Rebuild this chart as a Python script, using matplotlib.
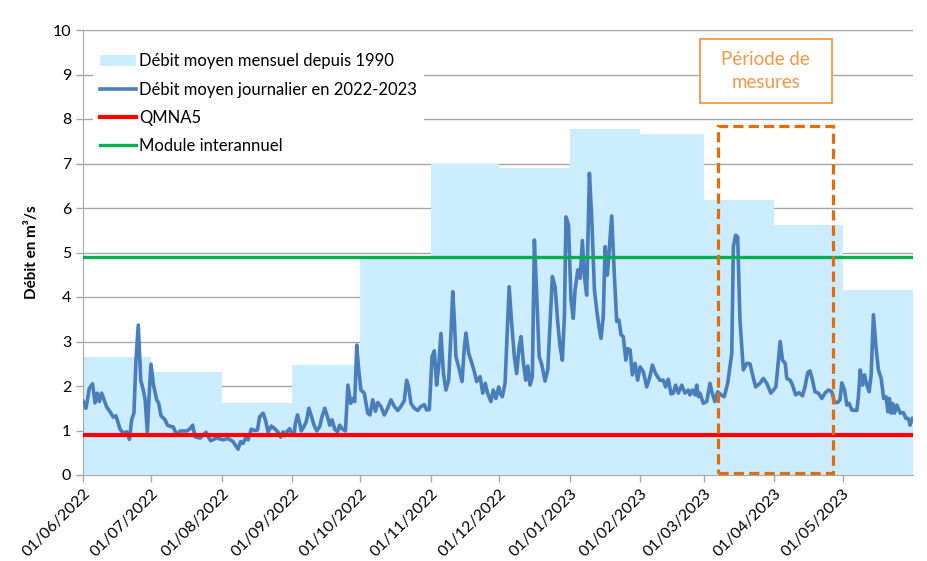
import matplotlib
matplotlib.use('Agg')
import matplotlib.pyplot as plt
import matplotlib.dates as mdates
from matplotlib.patches import Rectangle, Patch
from matplotlib.lines import Line2D
import numpy as np

plt.rcParams['font.family'] = ['Lato', 'DejaVu Sans']

# ---------------- data ----------------
month_starts = ['2022-06-01', '2022-07-01', '2022-08-01', '2022-09-01', '2022-10-01',
                '2022-11-01', '2022-12-01', '2023-01-01', '2023-02-01', '2023-03-01',
                '2023-04-01', '2023-05-01']
axis_end = '2023-06-01'
monthly_mean = [2.66, 2.31, 1.62, 2.47, 4.85, 7.00, 6.89, 7.77, 7.67, 6.19, 5.62, 4.16]

series_start = '2022-06-01'
# days elapsed since 01/06/2022
day_offsets = [
    0.1, 1.3, 2.8, 4.2, 5.3, 6.3, 7.2, 8.2, 9.2, 10.4, 11.9, 13.3, 14.5, 15.5, 16.3, 17.7,
    19.2, 20.4, 21.4, 22.4, 23.3, 24.3, 25.4, 26.5, 27.3, 28.3, 29.2, 29.9, 31.0, 32.4,
    33.3, 34.3, 36.1, 37.1, 38.6, 39.7, 41.2, 42.7, 45.6, 47.1, 48.2, 49.3, 51.5, 54.1,
    56.1, 58.8,
    61.6, 63.8, 66.0, 67.0, 68.2, 69.3, 70.4, 71.4, 72.6, 74.0, 75.5, 76.7, 77.7, 79.2,
    80.2, 81.4, 82.8, 84.3, 85.8, 86.9, 88.0, 88.7, 89.9, 90.9, 91.6, 92.8, 93.4, 94.3,
    95.3, 96.0, 97.2, 98.2, 99.3, 100.4, 101.6, 102.8, 104.1, 105.1, 106.3, 107.5, 108.5,
    109.5, 110.7, 111.9, 112.9, 113.9, 115.4, 116.5, 117.7, 118.7, 119.5, 120.4, 121.2,
    122.2, 123.7, 125.2, 126.2, 127.4, 128.6, 129.6, 131.0, 132.5, 134.0, 135.4, 136.9,
    138.4, 139.8, 141.3, 142.3, 143.2, 144.2, 145.7, 147.2, 148.6, 150.1, 151.1, 152.3,
    153.5, 154.5, 155.5, 156.4, 157.4, 158.5, 159.6, 160.8, 161.8, 162.6, 163.3, 164.0,
    165.2, 166.7, 167.7, 168.4, 169.6, 170.6, 172.1, 173.1, 174.6, 175.8, 176.9, 177.9,
    179.4, 180.4, 181.6, 182.8,
    183.4, 184.4, 185.6, 187.4, 188.5, 189.7, 190.7, 191.8, 192.6, 193.7, 194.7, 195.6,
    196.6, 197.6, 198.5, 199.5, 200.6, 201.7, 203.2, 204.4, 205.4, 206.4, 207.6, 208.8,
    209.8, 210.8, 211.7, 212.4, 213.5, 214.6, 215.6, 216.4, 217.6, 218.6, 219.6, 220.5,
    221.5, 222.7, 223.7, 224.9, 225.9, 226.9, 227.8, 228.8, 229.6, 230.6, 231.5, 232.5,
    233.7, 234.7, 235.7, 236.6, 237.6, 238.7, 239.5, 240.6, 241.6, 242.8, 243.9, 245.0,
    246.4, 247.9, 249.3, 250.4, 251.8, 253.7, 255.2, 256.2, 257.4, 258.6, 259.6, 260.6,
    261.8, 263.3, 264.7, 266.2, 266.9, 268.0, 269.1, 269.9, 270.6, 271.3, 272.8, 274.3,
    275.7, 276.7, 277.9, 279.1, 280.6, 282.0, 283.5, 285.3, 286.0, 287.0, 287.9, 288.9,
    290.4, 291.9, 293.3, 294.3, 295.8, 297.7, 299.2, 300.7, 302.5,
    304.7, 306.6, 307.6, 308.8, 309.5, 311.0, 312.0, 313.4, 314.9, 316.4, 317.5, 318.7,
    319.7, 320.8, 321.9, 323.4, 324.9, 326.3, 327.8, 329.3, 330.5, 331.9, 332.9, 333.7,
    334.9, 335.9, 336.9, 338.1, 340.3, 341.0, 341.8, 342.8, 343.7, 344.7, 345.7, 346.6,
    347.6, 348.7, 349.8, 351.0, 352.1, 353.1, 354.0, 354.6, 355.4, 356.0, 356.9, 357.9,
    359.4, 360.8, 361.9, 363.0, 363.7, 364.8,
]
daily_flow = [
    1.65, 1.50, 1.95, 2.05, 1.62, 1.84, 1.65, 1.84, 1.70, 1.53, 1.42, 1.30, 1.33, 1.16, 1.03, 0.94,
    0.97, 0.80, 1.24, 1.39, 2.58, 3.37, 2.13, 1.91, 1.70, 0.97, 1.90, 2.49, 2.02, 1.69,
    1.61, 1.33, 1.24, 1.12, 1.09, 1.08, 0.90, 0.99, 0.99, 1.04, 1.12, 0.86, 0.83, 0.96,
    0.77, 0.83,
    0.79, 0.82, 0.75, 0.67, 0.58, 0.75, 0.71, 0.82, 0.79, 1.03, 1.00, 1.01, 1.31, 1.39,
    1.24, 0.97, 1.10, 1.04, 0.96, 0.85, 0.97, 0.88, 0.99, 1.04, 0.96, 0.90, 1.16, 1.35,
    1.16, 0.99, 1.09, 1.20, 1.50, 1.33, 1.12, 0.99, 1.09, 1.31, 1.50, 1.31, 1.12,
    1.24, 1.03, 0.97, 1.12, 1.04, 0.99, 2.02, 1.61, 1.72, 1.65, 2.92, 2.40,
    1.91, 1.84, 1.39, 1.35, 1.69, 1.43, 1.63, 1.54, 1.35, 1.50, 1.69, 1.54,
    1.45, 1.54, 1.67, 2.13, 1.98, 1.61, 1.50, 1.45, 1.54, 1.58, 1.46, 1.47,
    2.66, 2.79, 2.02, 2.43, 3.18, 2.28, 1.91, 2.13, 3.18, 4.12, 3.48, 2.66,
    2.43, 2.10, 2.88, 3.19, 2.73, 2.58, 2.32, 2.10, 2.21, 1.84, 2.06, 1.84,
    1.65, 1.91, 1.72, 1.98,
    1.84, 1.76, 2.06, 4.23, 3.41, 2.66, 2.28, 2.88, 3.11, 2.51, 2.13, 2.45,
    2.02, 2.21, 5.28, 4.08, 2.66, 2.49, 2.11, 2.37, 3.41, 4.46, 4.23, 3.41,
    2.88, 2.58, 3.56, 5.80, 5.62, 3.93, 3.52, 4.16, 4.61, 4.42, 5.27, 4.46,
    4.04, 6.78, 5.80, 4.16, 3.71, 3.33, 3.07, 3.56, 5.13, 4.49, 5.13, 5.82,
    4.46, 3.45, 3.48, 3.15, 3.11, 2.58, 2.84, 2.81, 2.25, 2.51, 2.13, 2.43,
    2.32, 1.98, 2.21, 2.47, 2.28, 2.13, 2.13, 1.98, 2.15, 1.82, 1.84, 2.02,
    1.84, 2.02, 1.84, 1.91, 1.80, 1.91, 1.80, 2.02, 1.76, 1.84, 1.61, 1.65,
    2.06, 1.84, 1.65, 1.87, 1.80, 1.76, 2.06, 2.73, 5.13, 5.39, 5.35, 3.48,
    2.36, 2.51, 2.50, 2.28, 1.98, 2.06, 2.17, 2.06, 1.84,
    1.98, 3.00, 2.58, 2.51, 2.17, 2.13, 2.02, 1.80, 1.85, 1.78, 1.98, 2.30,
    2.34, 2.13, 1.87, 1.84, 1.72, 1.84, 1.91, 1.87, 1.63, 1.63, 1.69, 2.07,
    1.91, 1.57, 1.61, 1.46, 1.45, 1.76, 2.36, 2.02, 2.25, 2.02, 1.87, 2.25,
    3.60, 2.88, 2.36, 2.17, 1.72, 1.76, 1.42, 1.72, 1.39, 1.61, 1.39, 1.57,
    1.39, 1.40, 1.27, 1.27, 1.12, 1.27,
]
qmna5 = 0.91
module_interannuel = 4.89

legend_labels = ['Débit moyen mensuel depuis 1990', 'Débit moyen journalier en 2022-2023',
                 'QMNA5', 'Module interannuel']
y_label = 'Débit en m³/s'
period_label = 'Période de\nmesures'
period_box = ('2023-03-07 10:00', '2023-04-26 16:00', 0.05, 7.84)   # dashed frame
label_box = ('2023-02-27 07:00', '2023-04-26 05:00', 8.37, 9.79)    # text frame

# ---------------- figure ----------------
fig = plt.figure(figsize=(9.28, 5.61), dpi=100)
ax = fig.add_axes([83/928, 1-475/561, 830/928, 445/561])

def dn(s):
    return mdates.date2num(np.datetime64(s))

edges = [dn(s) for s in month_starts] + [dn(axis_end)]
widths = np.diff(edges)
ax.bar(edges[:-1], monthly_mean, width=widths, align='edge', color='#CCECFF',
       linewidth=0, zorder=1.5)

x_daily = dn(series_start) + np.array(day_offsets)
ax.plot(x_daily, daily_flow, color='#4A7EBB', lw=2.6, solid_joinstyle='round', zorder=3)

ax.axhline(qmna5, color='#FF0000', lw=3.0, zorder=3.2)
ax.axhline(module_interannuel, color='#00B050', lw=2.4, zorder=3.1)

# period frame
x0, x1, y0, y1 = dn(period_box[0]), dn(period_box[1]), period_box[2], period_box[3]
ax.add_patch(Rectangle((x0, y0), x1 - x0, y1 - y0, fill=False, edgecolor='#E46C0A',
                       lw=2.3, linestyle=(0, (3.2, 1.6)), zorder=4))
lx0, lx1, ly0, ly1 = dn(label_box[0]), dn(label_box[1]), label_box[2], label_box[3]
ax.add_patch(Rectangle((lx0, ly0), lx1 - lx0, ly1 - ly0, facecolor='white',
                       edgecolor='#F79646', lw=1.3, zorder=4))
ax.text((lx0 + lx1) / 2, (ly0 + ly1) / 2, period_label, ha='center', va='center',
        color='#F79646', fontsize=13.5, linespacing=1.45, zorder=5)

# axes
ax.set_xlim(dn(month_starts[0]), dn(axis_end))
ax.set_ylim(0, 10)
ax.set_yticks(range(0, 11))
ax.set_xticks(edges[:-1])
ax.xaxis.set_major_formatter(mdates.DateFormatter('%d/%m/%Y'))
plt.setp(ax.get_xticklabels(), rotation=45, ha='right', rotation_mode='anchor')
ax.tick_params(axis='both', labelsize=11.5, colors='#000000', length=5, width=1)
ax.tick_params(axis='both', color='#A6A6A6')
ax.set_axisbelow(True)
ax.grid(axis='y', color='#A6A6A6', lw=1)
for s in ['top', 'right']:
    ax.spines[s].set_visible(False)
for s in ['left', 'bottom']:
    ax.spines[s].set_color('#A6A6A6')
ax.set_ylabel(y_label, fontsize=11, fontweight='bold', labelpad=10)

handles = [Patch(facecolor='#CCECFF', edgecolor='none'),
           Line2D([], [], color='#4A7EBB', lw=2.6),
           Line2D([], [], color='#FF0000', lw=3.0),
           Line2D([], [], color='#00B050', lw=2.4)]
leg = ax.legend(handles, legend_labels, loc='upper left', bbox_to_anchor=(0.012, 0.9625),
                frameon=True, fancybox=False, facecolor='white', edgecolor='none',
                framealpha=1, fontsize=12, handlelength=2.16, handletextpad=0.22,
                labelspacing=0.73, borderaxespad=0)
leg.set_zorder(6)

fig.savefig('out.png', dpi=100)
